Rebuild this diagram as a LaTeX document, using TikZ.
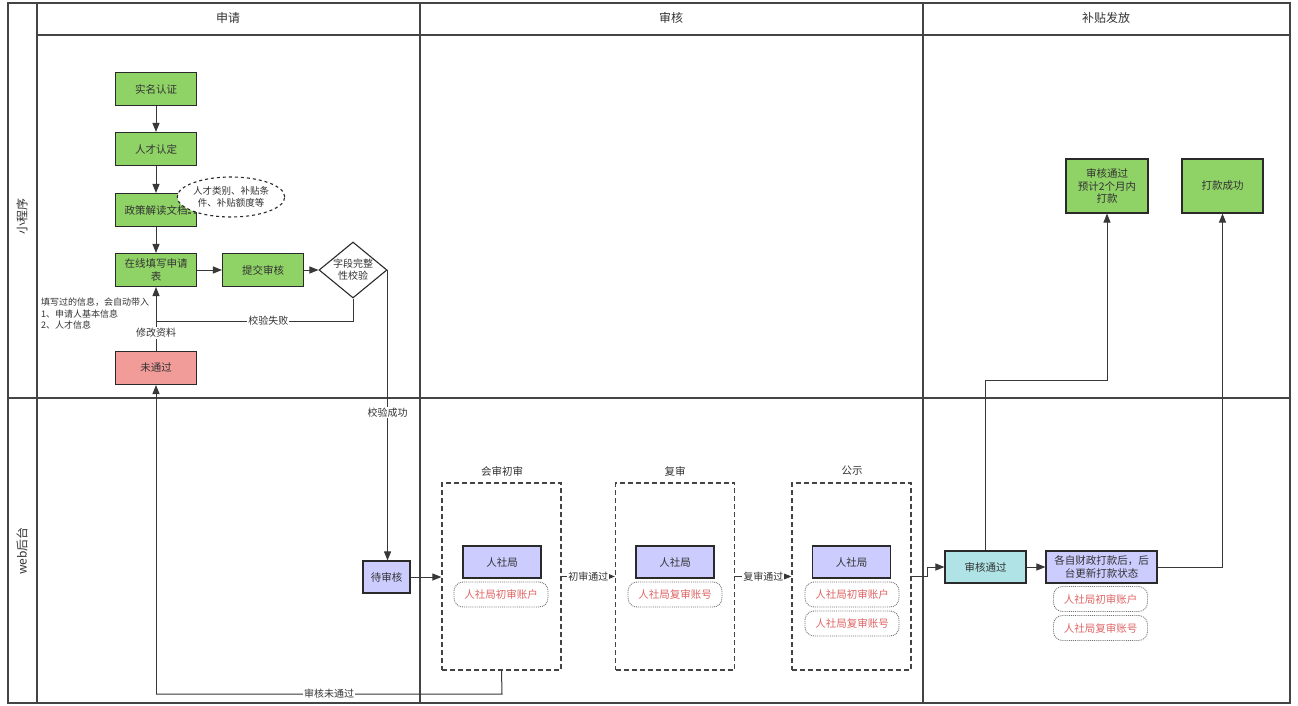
\documentclass[tikz,border=0pt]{standalone}
\usepackage{fontspec}
\setmainfont{Noto Sans CJK SC}
\usetikzlibrary{arrows.meta,shapes.geometric}
\definecolor{stroke}{HTML}{2A2A2A}
\definecolor{linec}{HTML}{383838}
\definecolor{txt}{HTML}{333333}
\definecolor{gfill}{HTML}{8FD266}
\definecolor{rfill}{HTML}{F19C99}
\definecolor{pfill}{HTML}{CCCCFF}
\definecolor{cfill}{HTML}{B0E3E6}
\definecolor{redtxt}{HTML}{E06666}
\definecolor{framec}{HTML}{444444}
\begin{document}
\begin{tikzpicture}[x=1pt,y=-1pt,
  font=\fontsize{10.5}{12.5}\selectfont, text=txt,
  box/.style={draw=stroke, line width=1.1pt, minimum width=81pt, minimum height=33pt, align=center, inner sep=1pt},
  gbox/.style={box, fill=gfill},
  rbox/.style={box, fill=rfill},
  pbox/.style={box, fill=pfill},
  cbox/.style={box, fill=cfill},
  acct/.style={draw=gray!90!black, densely dotted, line width=0.9pt, rounded corners=9pt, minimum width=94pt, minimum height=25pt, text=redtxt, inner sep=1pt},
  grp/.style={draw=framec, dash pattern=on 5pt off 3pt, line width=1.2pt, minimum width=119pt, minimum height=187pt, inner sep=0pt},
  frame/.style={draw=framec, line width=1.2pt},
  conn/.style={draw=linec, line width=1pt},
  arr/.style={conn, -{Triangle[length=9pt,width=7pt]}},
  lbl/.style={fill=white, inner sep=1pt, font=\fontsize{10}{12}\selectfont},
  head/.style={font=\fontsize{12}{14}\selectfont}
]
\useasboundingbox (0,0) rectangle (1298,706);
\fill[white] (0,0) rectangle (1298,706);

% swimlane frame
\draw[frame] (8,3) rectangle (1290,703);
\draw[frame] (37,3) -- (37,703);
\draw[frame] (37,35) -- (1290,35);
\draw[frame] (8,398) -- (1290,398);
\draw[frame] (420,3) -- (420,703);
\draw[frame] (923,3) -- (923,703);
\node[head] (h1) at (228,18) {申请};
\node[head] (h2) at (671,18) {审核};
\node[head] (h3) at (1106,18) {补贴发放};
\node[head, rotate=90] (l1) at (22,216) {小程序};
\node[head, rotate=90] (l2) at (22,551) {web后台};

% 申请 column
\node[gbox] (smrz) at (156,89) {实名认证};
\node[gbox] (rcrd) at (156,149) {人才认定};
\node[gbox] (zc) at (156,210) {政策解读文档};
\node[gbox] (zx) at (156,270) {在线填写申请\\表};
\node[gbox] (tj) at (263,270) {提交审核};
\node[draw=stroke, line width=1.1pt, fill=white, diamond, aspect=1.2, minimum width=68pt, minimum height=56pt, inner sep=0pt, align=center, font=\fontsize{10}{12}\selectfont] (dia) at (353,270) {字段完整\\性校验};
\node[rbox] (wtg) at (156,368) {未通过};
\node[draw=stroke, dashed, line width=1.1pt, fill=white, ellipse, minimum width=103pt, minimum height=40pt, inner sep=0pt, align=center, font=\fontsize{9.5}{11.5}\selectfont] (ell) at (231,197) {人才类别、补贴条\\件、补贴额度等};
\draw[draw=stroke, dashed, line width=1.1pt] (ell.205) -- (187,213);
\node[anchor=north west, align=left, inner sep=0pt, font=\fontsize{9}{11.5}\selectfont] (note) at (41,298) {填写过的信息，会自动带入\\1、申请人基本信息\\2、人才信息};

\draw[arr] (smrz) -- (rcrd);
\draw[arr] (rcrd) -- (zc);
\draw[arr] (zc) -- (zx);
\draw[arr] (zx) -- (tj);
\draw[arr] (tj) -- (dia);
\draw[conn] (dia.south) -- (353,321) -- node[lbl, pos=0.43] {校验失败} (156,321);
\draw[arr] (wtg.north) -- node[lbl, pos=0.28] {修改资料} (zx.south);

% web后台
\node[pbox, minimum width=47pt, minimum height=32pt] (dsh) at (386.5,577) {待审核};
\draw[arr] (dia.east) -- node[lbl, pos=0.49] {校验成功} (dia.east |- dsh.north);

\node[grp] (g1) at (501.5,576.5) {};
\node[grp] (g2) at (675,576.5) {};
\node[grp] (g3) at (851.5,576.5) {};
\node (t1) at (502,471) {会审初审};
\node (t2) at (675,471) {复审};
\node (t3) at (852,471) {公示};

\node[pbox, minimum width=78pt, minimum height=32pt] (r1) at (502,562) {人社局};
\node[pbox, minimum width=78pt, minimum height=32pt] (r2) at (675,562) {人社局};
\node[pbox, minimum width=78pt, minimum height=32pt] (r3) at (851.5,562) {人社局};
\node[acct] (a1) at (501,594.5) {人社局初审账户};
\node[acct] (a2) at (675,594.5) {人社局复审账号};
\node[acct] (a3) at (852,594.5) {人社局初审账户};
\node[acct] (a4) at (852,623.5) {人社局复审账号};

\draw[arr] (dsh.east) -- (g1.west |- dsh.east);
\draw[arr] (g1.east) -- node[lbl] {初审通过} (g2.west);
\draw[arr] (g2.east) -- node[lbl] {复审通过} (g3.west);
\draw[conn] (g1.south) -- (502,694) -- node[lbl, pos=0.5] {审核未通过} (156,694);
\draw[arr] (156,694) -- (wtg.south);

% 补贴发放
\node[cbox, minimum width=81pt, minimum height=32pt] (shtg) at (985.5,567) {审核通过};
\node[pbox, minimum width=111pt, minimum height=32pt] (czdk) at (1101.5,567) {各自财政打款后，后\\台更新打款状态};
\node[acct] (a5) at (1100.5,599) {人社局初审账户};
\node[acct] (a6) at (1100.5,628) {人社局复审账号};
\node[gbox, minimum width=82pt, minimum height=54pt] (yj) at (1107,186) {审核通过\\预计2个月内\\打款};
\node[gbox, minimum width=81pt, minimum height=54pt] (dkcg) at (1222.5,186) {打款成功};

\draw[arr] (g3.east) -- (927,576.5) -- (927,567) -- (shtg.west);
\draw[arr] (shtg) -- (czdk);
\draw[arr] (shtg.north) -- (985.5,380) -| (yj.south);
\draw[arr] (czdk.east) -| (dkcg.south);
\end{tikzpicture}
\end{document}
